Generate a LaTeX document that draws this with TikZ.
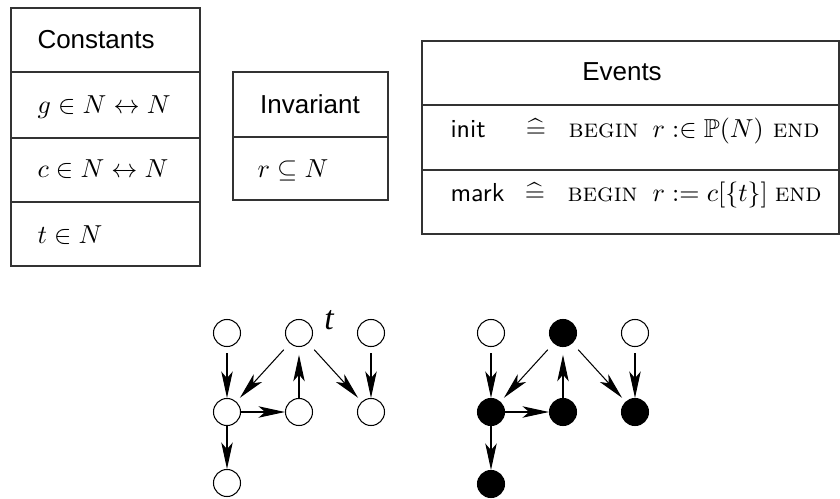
\documentclass[tikz,border=0pt]{standalone}
\usepackage{amssymb}
\usepackage{fontspec}
\setsansfont{Liberation Sans}
\newfontfamily\labelserif{Liberation Serif}
\newfontfamily\lmsans{Latin Modern Sans}
\usetikzlibrary{arrows.meta}
\begin{document}
\begin{tikzpicture}[x=0.3846pt,y=-0.3846pt,
  box/.style={draw=black!80, line width=0.45pt},
  txt/.style={anchor=base west, inner sep=0pt},
  rtxt/.style={anchor=base east, inner sep=0pt},
  ctxt/.style={anchor=base, inner sep=0pt},
  vtx/.style={circle, draw, line width=0.4pt, minimum size=10.4pt, inner sep=0pt},
  on/.style={vtx, fill=black},
  off/.style={vtx, fill=white},
  edge/.style={-{Stealth[length=10.2pt,width=4.4pt,inset=2.6pt]}, line width=0.4pt}]
\useasboundingbox (0,0) rectangle (840,499);

% ---- Constants table
\draw[box] (11,8) rectangle (200,266);
\draw[box] (11,72) -- (200,72);
\draw[box] (11,138) -- (200,138);
\draw[box] (11,202) -- (200,202);
\node[txt] (ch) at (37,48) {\sffamily Constants};
\node[txt] (c1) at (37,113) {$g \in N \leftrightarrow N$};
\node[txt] (c2) at (37,177) {$c \in N \leftrightarrow N$};
\node[txt] (c3) at (37,243) {$t \in N$};

% ---- Invariant table
\draw[box] (233,72) rectangle (388,200);
\draw[box] (233,137) -- (388,137);
\node[ctxt] (ih) at (310,113) {\sffamily Invariant};
\node[txt] (i1) at (257,177) {$r \subseteq N$};

% ---- Events table
\draw[box] (422,41) rectangle (839,234);
\draw[box] (422,105) -- (839,105);
\draw[box] (422,170) -- (839,170);
\node[ctxt] (eh) at (622,80) {\sffamily Events};
\node[txt]  (e1n) at (450,137) {\lmsans init};
\node[ctxt] (e1d) at (536,137) {$\widehat{=}$};
\node[txt]  (e1b) at (568,137) {\textsc{begin}};
\node[txt]  (e1m) at (652,137) {$r :\in \mathbb{P}(N)$};
\node[rtxt] (e1e) at (820,137) {\textsc{end}};
\node[txt]  (e2n) at (450,201) {\lmsans mark};
\node[ctxt] (e2d) at (535,201) {$\widehat{=}$};
\node[txt]  (e2b) at (567,201) {\textsc{begin}};
\node[txt]  (e2m) at (652,201) {$r := c[\{t\}]$};
\node[rtxt] (e2e) at (822,201) {\textsc{end}};

% ---- graph before marking
\node[off] (a1) at (227,333) {};
\node[off] (a2) at (299,333) {};
\node[off] (a3) at (371,333) {};
\node[off] (a4) at (227,412) {};
\node[off] (a5) at (299,412) {};
\node[off] (a6) at (371,412) {};
\node[off] (a7) at (227,483) {};
\node[inner sep=0pt] (tl) at (329,320) {\labelserif\itshape\fontsize{13}{13}\selectfont t};
\draw[edge, shorten <=2.3pt] (a1) -- (a4);
\draw[edge, shorten <=3.3pt, shorten >=2pt] (a2) -- (a4);
\draw[edge] (a4) -- (a5);
\draw[edge, shorten >=3pt] (a5) -- (a2);
\draw[edge, shorten <=3.3pt, shorten >=2pt] (a2) -- (a6);
\draw[edge, shorten <=2.3pt] (a3) -- (a6);
\draw[edge] (a4) -- (a7);

% ---- graph after marking
\node[off] (b1) at (491,333) {};
\node[on]  (b2) at (563,333) {};
\node[off] (b3) at (635,333) {};
\node[on]  (b4) at (491,412) {};
\node[on]  (b5) at (563,412) {};
\node[on]  (b6) at (635,412) {};
\node[on]  (b7) at (491,484) {};
\draw[edge, shorten <=2.3pt] (b1) -- (b4);
\draw[edge, shorten <=3.3pt, shorten >=2pt] (b2) -- (b4);
\draw[edge] (b4) -- (b5);
\draw[edge, shorten >=3pt] (b5) -- (b2);
\draw[edge, shorten <=3.3pt, shorten >=2pt] (b2) -- (b6);
\draw[edge, shorten <=2.3pt] (b3) -- (b6);
\draw[edge] (b4) -- (b7);
\end{tikzpicture}
\end{document}
